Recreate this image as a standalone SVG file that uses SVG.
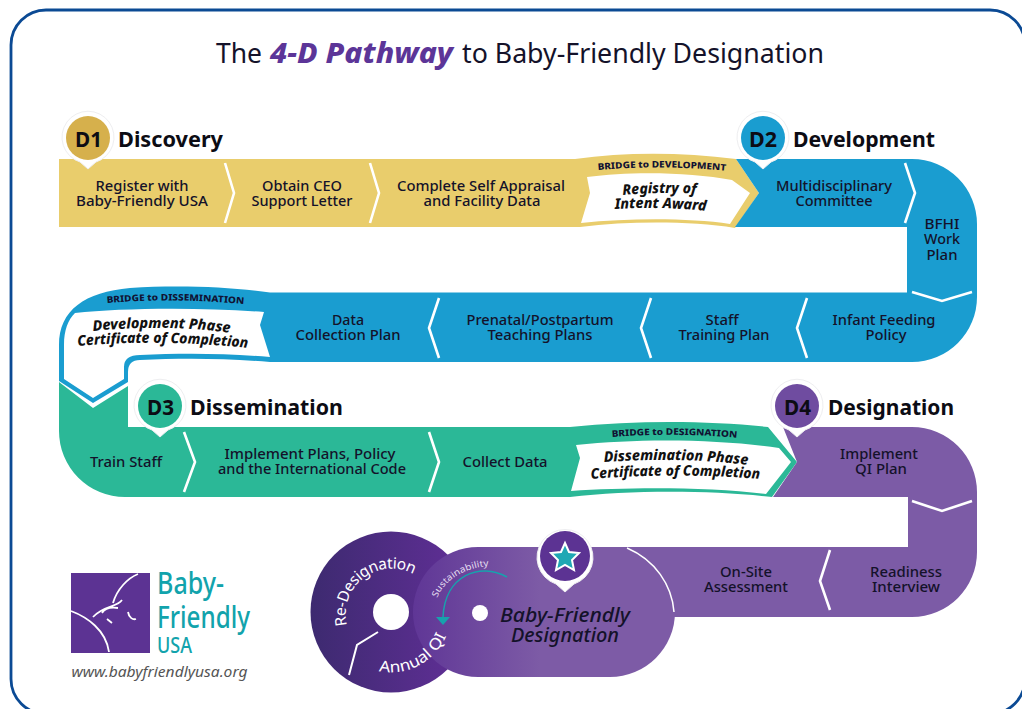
<svg xmlns="http://www.w3.org/2000/svg" width="1022" height="709" viewBox="0 0 1022 709">
<style>
text{font-family:"Noto Sans","Liberation Sans",sans-serif;text-anchor:middle;fill:#14122a}
.s{font-size:14.5px;font-weight:500}
.h{font-size:21px;font-weight:700;fill:#0c0c14;text-anchor:start}
.b{font-size:21px;font-weight:700;fill:#0c0c14}
.br{font-size:9px;font-weight:800;fill:#111233;text-anchor:start}
.cert{font-size:14.5px;font-weight:800;font-style:italic;fill:#111;text-anchor:start}
.ch{fill:none;stroke:#fff;stroke-width:2.6}
.halo{fill:#fff;stroke:#eeeef0;stroke-width:1}
.disk{fill:#fff;font-size:15.5px;text-anchor:start}
.logo{fill:#12a3ac;text-anchor:start;font-weight:500}
</style>
<defs>
<linearGradient id="dg" gradientUnits="userSpaceOnUse" x1="311" y1="612" x2="471" y2="612"><stop offset="0" stop-color="#3d2a70"/><stop offset="1" stop-color="#622f98"/></linearGradient>
<linearGradient id="pg" gradientUnits="userSpaceOnUse" x1="412" y1="612" x2="540" y2="612"><stop offset="0" stop-color="#5f3696"/><stop offset="1" stop-color="#7d5ba6"/></linearGradient>
<path id="p1" d="M598,170 C640,166 690,167 728,171"/>
<path id="p2" d="M107,303 C150,299 200,300 244,304"/>
<path id="p3" d="M612,437 C650,434 700,434 738,438"/>
<path id="p4" d="M93,331 C140,326 190,327 231,333"/>
<path id="p5" d="M78,346 C130,341 190,342 249,348"/>
<path id="p6" d="M604,462 C650,459 700,459 748,465"/>
<path id="p7" d="M591,479 C640,475 700,474 760,479"/>
<path id="p8" d="M623,195 C645,193 675,192 696,194"/>
<path id="p9" d="M615,209 C645,207 680,208 706,211"/>
<path id="r1" d="M347,625.400 A46,46 0 0 1 435,599"/>
<path id="r2" d="M379,671 A60,60 0 0 0 451,616"/>
<path id="r3" d="M437,598 C445,578 470,565 495,566"/>
</defs>
<rect id="frame" x="11" y="10" width="1014" height="704" rx="35" fill="#fff" stroke="#0b4a94" stroke-width="2.800"/>
<g id="title">
<text y="63" font-size="28" x="239" textLength="46" lengthAdjust="spacingAndGlyphs">The</text>
<text y="63" font-size="28" x="361.500" textLength="183" lengthAdjust="spacingAndGlyphs" font-weight="800" font-style="italic" style="fill:#5c3598">4-D Pathway</text>
<text y="63" font-size="28" x="643" textLength="362" lengthAdjust="spacingAndGlyphs">to Baby-Friendly Designation</text>
</g>

<g id="bands">
<path id="band-d1" fill="#e9cd6c" d="M59,159 L575,159 C625,152 680,152 736,159 L759,193 L735,228 C690,221 630,221 580,227 L59,227 Z"/>
<path d="M587,177 C630,171 690,172 732,180 L750,193 L730,224 C690,218 630,218 581,223 L590,193 Z" fill="#fff"/>
<path id="band-d2" fill="#1a9dd0" d="M736,159 L912,159 A65,65 0 0 1 977,224 L977,297 A65,65 0 0 1 912,362 L270,362 C225,358 180,358 140,360 Q128,360 128,372 L128,382 L93,403 L59,381 L59,345 C59,310 85,292 130,288 C180,285 230,287 270,292.500 L907,292.500 L907,227 L735,227 L759,193 Z"/>
<path d="M75,313 C120,308 200,307 264,312 L260,325 L270,357 C225,353 180,353 140,355 Q124,355 124,367 L124,379 L93,398 L64,379 L64,345 C64,330 68,320 75,313 Z" fill="#fff"/>
<path id="band-d3" fill="#2bb897" d="M59,382 L93,408 L128,386 L128,427 L570,427 C640,420 710,421 768,427 L797,462 L772,497 C710,490 630,490 570,497 L125,497 A66,66 0 0 1 59,431 Z"/>
<path d="M576,445 C640,438 720,439 779,448 L791,462 L766,494 C710,487 630,487 571,491 L580,458 Z" fill="#fff"/>
<path id="band-d4" fill="#7c5ba6" d="M783,427 L912,427 A65,65 0 0 1 977,492 L977,552 A65,65 0 0 1 912,617 L660,617 L600,547 L908,547 L908,497 L773,497 L797,462 Z"/>
</g>

<g id="connectors">
<path class="ch" d="M225,163 L234,193 L225,223"/>
<path class="ch" d="M370,163 L379,193 L370,223"/>
<path class="ch" d="M905,163 L915,193 L905,223"/>
<path class="ch" d="M912,292 L942,301 L972,292"/>
<path class="ch" d="M807,298 L797,328 L807,358"/>
<path class="ch" d="M651,298 L641,328 L651,358"/>
<path class="ch" d="M439,298 L429,328 L439,358"/>
<path class="ch" d="M184,432 L195,462 L184,492"/>
<path class="ch" d="M429,432 L439,462 L429,492"/>
<path class="ch" d="M912,501 L942,511 L972,501"/>
<path class="ch" d="M830,550 L820,581 L830,610"/>
</g>

<g id="d1-steps">
<text class="s" x="142" y="191" textLength="93" lengthAdjust="spacingAndGlyphs">Register with</text>
<text class="s" x="142" y="206" textLength="132" lengthAdjust="spacingAndGlyphs">Baby-Friendly USA</text>
<text class="s" x="302" y="191" textLength="80" lengthAdjust="spacingAndGlyphs">Obtain CEO</text>
<text class="s" x="302" y="206" textLength="101" lengthAdjust="spacingAndGlyphs">Support Letter</text>
<text class="s" x="481" y="191" textLength="168" lengthAdjust="spacingAndGlyphs">Complete Self Appraisal</text>
<text class="s" x="482" y="206" textLength="117" lengthAdjust="spacingAndGlyphs">and Facility Data</text>
<text class="br"><textPath href="#p1" textLength="128" lengthAdjust="spacingAndGlyphs">BRIDGE to DEVELOPMENT</textPath></text>
<text class="cert"><textPath href="#p8" textLength="73" lengthAdjust="spacingAndGlyphs">Registry of</textPath></text>
<text class="cert"><textPath href="#p9" textLength="91" lengthAdjust="spacingAndGlyphs">Intent Award</textPath></text>
</g>
<g id="d2-steps">
<text class="s" x="834" y="191" textLength="116" lengthAdjust="spacingAndGlyphs">Multidisciplinary</text>
<text class="s" x="834" y="206" textLength="77" lengthAdjust="spacingAndGlyphs">Committee</text>
<text class="s" x="942" y="229" textLength="35" lengthAdjust="spacingAndGlyphs">BFHI</text>
<text class="s" x="942" y="244" textLength="36" lengthAdjust="spacingAndGlyphs">Work</text>
<text class="s" x="942" y="260" textLength="31" lengthAdjust="spacingAndGlyphs">Plan</text>
<text class="s" x="884" y="325" textLength="103" lengthAdjust="spacingAndGlyphs">Infant Feeding</text>
<text class="s" x="886" y="340" textLength="41" lengthAdjust="spacingAndGlyphs">Policy</text>
<text class="s" x="722" y="325" textLength="33" lengthAdjust="spacingAndGlyphs">Staff</text>
<text class="s" x="724" y="340" textLength="91" lengthAdjust="spacingAndGlyphs">Training Plan</text>
<text class="s" x="540" y="325" textLength="147" lengthAdjust="spacingAndGlyphs">Prenatal/Postpartum</text>
<text class="s" x="540" y="340" textLength="105" lengthAdjust="spacingAndGlyphs">Teaching Plans</text>
<text class="s" x="348" y="325" textLength="32" lengthAdjust="spacingAndGlyphs">Data</text>
<text class="s" x="348" y="340" textLength="105" lengthAdjust="spacingAndGlyphs">Collection Plan</text>
<text class="br"><textPath href="#p2" textLength="137" lengthAdjust="spacingAndGlyphs">BRIDGE to DISSEMINATION</textPath></text>
<text class="cert"><textPath href="#p4" textLength="137" lengthAdjust="spacingAndGlyphs">Development Phase</textPath></text>
<text class="cert"><textPath href="#p5" textLength="170" lengthAdjust="spacingAndGlyphs">Certificate of Completion</textPath></text>
</g>
<g id="d3-steps">
<text class="s" x="126" y="467" textLength="72" lengthAdjust="spacingAndGlyphs">Train Staff</text>
<text class="s" x="310" y="459" textLength="171" lengthAdjust="spacingAndGlyphs">Implement Plans, Policy</text>
<text class="s" x="312" y="474" textLength="188" lengthAdjust="spacingAndGlyphs">and the International Code</text>
<text class="s" x="505" y="467" textLength="85" lengthAdjust="spacingAndGlyphs">Collect Data</text>
<text class="br"><textPath href="#p3" textLength="125" lengthAdjust="spacingAndGlyphs">BRIDGE to DESIGNATION</textPath></text>
<text class="cert"><textPath href="#p6" textLength="144" lengthAdjust="spacingAndGlyphs">Dissemination Phase</textPath></text>
<text class="cert"><textPath href="#p7" textLength="169" lengthAdjust="spacingAndGlyphs">Certificate of Completion</textPath></text>
</g>
<g id="d4-steps">
<text class="s" x="879" y="459" textLength="78" lengthAdjust="spacingAndGlyphs">Implement</text>
<text class="s" x="881" y="474" textLength="52" lengthAdjust="spacingAndGlyphs">QI Plan</text>
<text class="s" x="906" y="577" textLength="72" lengthAdjust="spacingAndGlyphs">Readiness</text>
<text class="s" x="906" y="592" textLength="68" lengthAdjust="spacingAndGlyphs">Interview</text>
<text class="s" x="746" y="577" textLength="52" lengthAdjust="spacingAndGlyphs">On-Site</text>
<text class="s" x="746" y="592" textLength="84" lengthAdjust="spacingAndGlyphs">Assessment</text>
</g>

<g id="d1">
<path class="halo" d="M88,169 L80,162 A26,26 0 1 1 96,162 Z"/><circle cx="88" cy="138" r="22" fill="#d6b04c"/>
<text class="b" x="88.500" y="147" textLength="27" lengthAdjust="spacingAndGlyphs">D1</text>
<text class="h" x="118" y="147" textLength="105" lengthAdjust="spacingAndGlyphs">Discovery</text>
</g>
<g id="d2">
<path class="halo" d="M763,169 L755,162 A26,26 0 1 1 771,162 Z"/><circle cx="763" cy="138" r="22" fill="#1a9dd0"/>
<text class="b" x="763" y="147" textLength="28" lengthAdjust="spacingAndGlyphs">D2</text>
<text class="h" x="793" y="147" textLength="142" lengthAdjust="spacingAndGlyphs">Development</text>
</g>
<g id="d3">
<path class="halo" d="M160,437 L152,430 A26,26 0 1 1 168,430 Z"/><circle cx="160" cy="406" r="22" fill="#2bb897"/>
<text class="b" x="160.500" y="415" textLength="27" lengthAdjust="spacingAndGlyphs">D3</text>
<text class="h" x="190" y="415" textLength="153" lengthAdjust="spacingAndGlyphs">Dissemination</text>
</g>
<g id="d4">
<path class="halo" d="M797,437 L789,430 A26,26 0 1 1 805,430 Z"/><circle cx="797" cy="406" r="22" fill="#6f4ca0"/>
<text class="b" x="797.500" y="415" textLength="27" lengthAdjust="spacingAndGlyphs">D4</text>
<text class="h" x="828" y="415" textLength="126" lengthAdjust="spacingAndGlyphs">Designation</text>
</g>

<g id="redesignation-disk">
<circle cx="391" cy="612" r="80.500" fill="url(#dg)"/>
<circle cx="391" cy="612" r="18" fill="#fff"/>
<path d="M378,632 L357,645 L349,675" fill="none" stroke="#fff" stroke-width="2"/>
<text class="disk"><textPath href="#r1" textLength="106">Re-Designation</textPath></text>
</g>
<g id="designation">
<path d="M478,547 L610,547 A65,65 0 0 1 610,677 L478,677 A65,65 0 0 1 478,547 Z" fill="url(#pg)"/>
<path d="M627,548 C655,560 672,585 674,612" fill="none" stroke="#fff" stroke-width="1.500"/>
<circle cx="480" cy="613" r="8" fill="#fff"/>
<text x="565" y="622" font-size="20" font-style="italic" font-weight="500" textLength="130" lengthAdjust="spacingAndGlyphs">Baby-Friendly</text>
<text x="565" y="642" font-size="20" font-style="italic" font-weight="500" textLength="108" lengthAdjust="spacingAndGlyphs">Designation</text>
<path d="M565,592 L556,584 A28,28 0 1 1 574,584 Z" fill="#fff" stroke="#eeeef0"/>
<circle cx="565" cy="556" r="25" fill="#5c3393"/>
<polygon points="565,543 569,552 579,553 572,560 574,570 565,565 556,570 558,560 551,553 561,552" fill="#1fa8b4" stroke="#fff" stroke-width="2"/>
<text class="disk"><textPath href="#r2" textLength="82" lengthAdjust="spacingAndGlyphs">Annual QI</textPath></text>
<text style="font-size:9px;fill:#e4dcf0;text-anchor:start"><textPath href="#r3" textLength="64" lengthAdjust="spacingAndGlyphs">Sustainability</textPath></text>
<path d="M507,577 C480,562 445,575 443,617" fill="none" stroke="#17a2ad" stroke-width="1.500"/>
<polygon points="436,617 450,617 443,625" fill="#17a2ad"/>
</g>

<g id="logo">
<rect x="71" y="573" width="79" height="80" fill="#5c3393"/>
<path d="M71,611 C87,617 106,630 109,652 M138,574 C128,578 117,589 113,603 M122,600 C116,608 104,605 93,617 M118,608 C111,607 105,608 102,613 M107,619 L112,623 M128,612 C129,618 133,620 136,619" fill="none" stroke="#fff" stroke-width="1.800"/>
<text class="logo" x="157" y="594" font-size="31" textLength="67" lengthAdjust="spacingAndGlyphs">Baby-</text>
<text class="logo" x="157" y="628" font-size="31" textLength="93" lengthAdjust="spacingAndGlyphs">Friendly</text>
<text class="logo" x="157" y="653" font-size="21" textLength="35" lengthAdjust="spacingAndGlyphs">USA</text>
<text x="159.500" y="677" font-size="14" font-style="italic" textLength="176" lengthAdjust="spacingAndGlyphs" style="fill:#555">www.babyfriendlyusa.org</text>
</g>
</svg>
